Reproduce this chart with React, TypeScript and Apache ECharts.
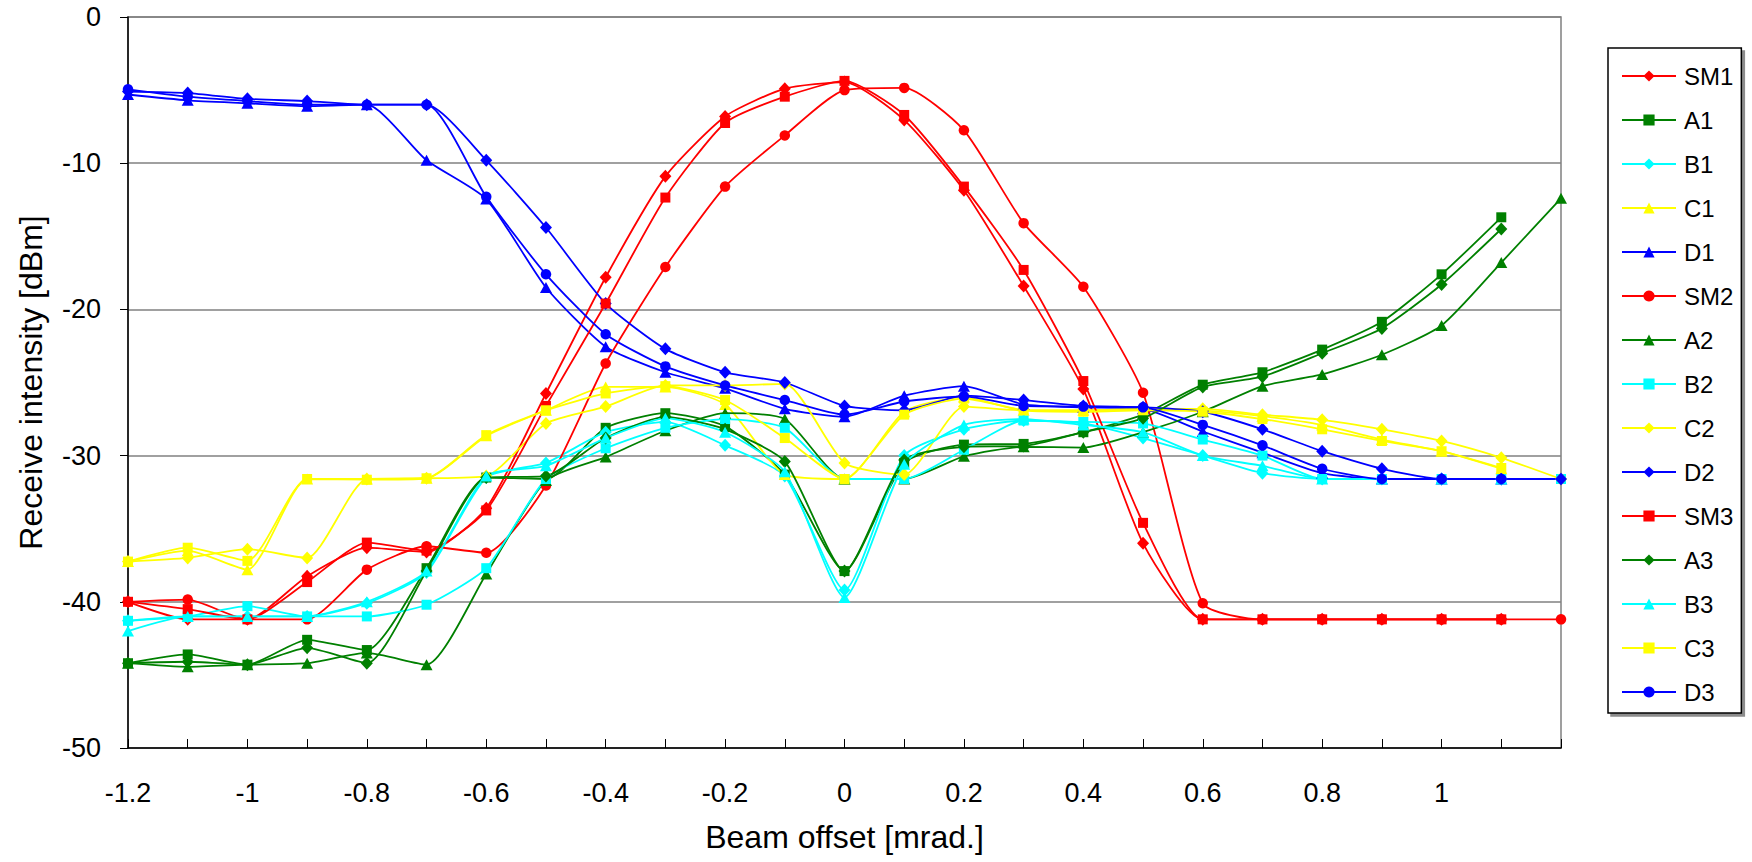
import React, { useEffect, useRef } from "react";
import * as echarts from "echarts";

// Beam offset [mrad.]
const X = [-1.2, -1.1, -1.0, -0.9, -0.8, -0.7, -0.6, -0.5, -0.4, -0.3, -0.2, -0.1, 0, 0.1, 0.2, 0.3, 0.4, 0.5, 0.6, 0.7, 0.8, 0.9, 1.0, 1.1, 1.2];

const SM1 = [-40.0, -41.2, -41.2, -38.25, -36.3, -36.6, -33.6, -25.75, -17.8, -10.9, -6.8, -4.9, -4.45, -7.05, -11.85, -18.4, -25.45, -36.0, -41.2, -41.2, -41.2, -41.2, -41.2, -41.2];
const A1 = [-44.2, -43.6, -44.3, -42.6, -43.3, -37.7, -31.5, -31.6, -28.1, -27.1, -28.0, -31.3, -37.9, -30.5, -29.25, -29.2, -28.4, -27.2, -25.15, -24.3, -22.75, -20.85, -17.6, -13.7];
const B1 = [-41.3, -41.0, -41.0, -41.0, -40.1, -38.0, -31.5, -30.5, -28.4, -27.7, -29.3, -31.4, -39.2, -30.0, -28.2, -27.6, -27.8, -28.8, -30.0, -31.2, -31.6, -31.6, -31.6, -31.6];
const C1 = [-37.25, -36.5, -37.8, -31.6, -31.6, -31.55, -28.65, -26.9, -25.3, -25.3, -26.5, -31.3, -31.6, -27.0, -26.0, -26.9, -26.9, -26.8, -26.9, -27.3, -27.9, -28.9, -29.7, -30.9];
const D1 = [-5.3, -5.7, -5.9, -6.1, -6.0, -9.8, -12.45, -18.5, -22.55, -24.3, -25.4, -26.8, -27.35, -25.9, -25.25, -26.5, -26.7, -26.8, -28.35, -29.8, -31.2, -31.6, -31.6, -31.6];
const SM2 = [-40.0, -39.85, -41.2, -41.2, -37.8, -36.2, -36.65, -32.05, -23.7, -17.1, -11.6, -8.1, -5.0, -4.85, -7.75, -14.1, -18.45, -25.7, -40.1, -41.2, -41.2, -41.2, -41.2, -41.2, -41.2];
const A2 = [-44.2, -44.45, -44.3, -44.2, -43.5, -44.3, -38.1, -31.7, -30.1, -28.3, -27.1, -27.5, -31.6, -31.6, -30.05, -29.4, -29.45, -28.4, -27.0, -25.25, -24.45, -23.1, -21.1, -16.8, -12.4];
const B2 = [-41.3, -41.0, -40.3, -41.0, -41.0, -40.2, -37.7, -31.6, -29.5, -28.1, -27.5, -28.1, -31.6, -31.6, -29.6, -27.6, -27.7, -27.8, -28.9, -30.0, -31.6, -31.6, -31.6, -31.6, -31.6];
const C2 = [-37.25, -37.0, -36.4, -37.0, -31.6, -31.55, -31.4, -27.8, -26.65, -25.2, -25.2, -25.1, -30.5, -31.3, -26.65, -26.9, -26.9, -26.8, -26.8, -27.2, -27.55, -28.2, -29.0, -30.15, -31.6];
const D2 = [-5.1, -5.2, -5.6, -5.75, -6.0, -6.0, -9.8, -14.4, -19.6, -22.7, -24.3, -25.0, -26.6, -26.9, -25.9, -26.2, -26.6, -26.7, -27.0, -28.2, -29.7, -30.9, -31.6, -31.6, -31.6];
const SM3 = [-40.0, -40.5, -41.2, -38.65, -35.95, -36.5, -33.75, -26.6, -19.6, -12.35, -7.25, -5.45, -4.37, -6.7, -11.6, -17.3, -24.9, -34.6, -41.2, -41.2, -41.2, -41.2, -41.2, -41.2];
const A3 = [-44.2, -44.1, -44.3, -43.15, -44.2, -37.9, -31.5, -31.4, -28.8, -27.35, -28.2, -30.4, -37.9, -30.3, -29.4, -29.35, -28.4, -27.45, -25.3, -24.6, -23.0, -21.3, -18.3, -14.5];
const B3 = [-42.0, -41.0, -41.0, -41.0, -40.0, -37.9, -31.4, -30.7, -28.8, -27.45, -28.4, -31.1, -39.7, -30.6, -27.9, -27.5, -27.9, -28.4, -30.0, -30.7, -31.6, -31.6, -31.6, -31.6];
const C3 = [-37.25, -36.3, -37.2, -31.6, -31.65, -31.55, -28.6, -26.9, -25.75, -25.25, -26.2, -28.8, -31.6, -27.2, -26.1, -26.9, -27.0, -26.9, -27.0, -27.5, -28.2, -29.0, -29.7, -30.85];
const D3 = [-4.95, -5.45, -5.75, -6.0, -6.0, -6.0, -12.3, -17.6, -21.7, -23.9, -25.2, -26.2, -27.2, -26.3, -25.95, -26.6, -26.65, -26.7, -27.9, -29.3, -30.9, -31.6, -31.6, -31.6];

const RED = "#FF0000";
const GREEN = "#008000";
const CYAN = "#00FFFF";
const YELLOW = "#FFFF00";
const BLUE = "#0000FF";

const SERIES_DEF: [string, number[], string, string][] = [
  ["SM1", SM1, RED, "diamond"],
  ["A1", A1, GREEN, "rect"],
  ["B1", B1, CYAN, "diamond"],
  ["C1", C1, YELLOW, "triangle"],
  ["D1", D1, BLUE, "triangle"],
  ["SM2", SM2, RED, "circle"],
  ["A2", A2, GREEN, "triangle"],
  ["B2", B2, CYAN, "rect"],
  ["C2", C2, YELLOW, "diamond"],
  ["D2", D2, BLUE, "diamond"],
  ["SM3", SM3, RED, "rect"],
  ["A3", A3, GREEN, "diamond"],
  ["B3", B3, CYAN, "triangle"],
  ["C3", C3, YELLOW, "rect"],
  ["D3", D3, BLUE, "circle"],
];

const SYMBOL_SIZE: Record<string, number | number[]> = {
  diamond: [12, 13],
  rect: [10, 10],
  triangle: [12, 11],
  circle: 10.5,
};

const FONT = "'Liberation Sans', Arial, sans-serif";

export default function App() {
  const ref = useRef<HTMLDivElement>(null);

  useEffect(() => {
    if (!ref.current) return;
    const chart = echarts.init(ref.current, undefined, { renderer: "svg" });

    const series = SERIES_DEF.map(([name, ys, color, symbol]) => ({
      name,
      type: "line",
      data: ys.map((y, i) => [X[i], y]),
      smooth: 0.2,
      symbol,
      symbolSize: SYMBOL_SIZE[symbol],
      lineStyle: { color, width: 1.8 },
      itemStyle: { color, borderWidth: 0 },
      emphasis: { disabled: true },
    }));

    chart.setOption({
      animation: false,
      backgroundColor: "#ffffff",
      textStyle: { fontFamily: FONT },
      grid: {
        left: 128,
        right: 191,
        top: 17,
        bottom: 114,
        show: true,
        borderColor: "#808080",
        borderWidth: 1.5,
        backgroundColor: "transparent",
      },
      xAxis: {
        type: "value",
        min: -1.2,
        max: 1.2,
        interval: 0.1,
        name: "Beam offset [mrad.]",
        nameLocation: "middle",
        nameGap: 73,
        nameTextStyle: { fontSize: 32, color: "#000", fontFamily: FONT },
        axisLine: { show: true, onZero: false, lineStyle: { color: "#000", width: 1.5 } },
        axisTick: { show: true, inside: true, length: 9, lineStyle: { color: "#000", width: 1 } },
        splitLine: { show: false },
        axisLabel: {
          margin: 31,
          fontSize: 27,
          color: "#000",
          fontFamily: FONT,
          showMaxLabel: true,
          formatter: (v: number) => {
            const k = Math.round(v * 10);
            if (k % 2 !== 0 || k === 12) return "";
            return String(k / 10);
          },
        },
      },
      yAxis: {
        type: "value",
        min: -50,
        max: 0,
        interval: 10,
        name: "Receive intensity [dBm]",
        nameLocation: "middle",
        nameGap: 81,
        nameRotate: 90,
        nameTextStyle: { fontSize: 32, color: "#000", fontFamily: FONT },
        axisLine: { show: true, onZero: false, lineStyle: { color: "#000", width: 1.5 } },
        axisTick: { show: true, inside: false, length: 8, lineStyle: { color: "#000", width: 1 } },
        splitLine: { show: true, lineStyle: { color: "#808080", width: 1.5 } },
        axisLabel: { margin: 27, fontSize: 27, color: "#000", fontFamily: FONT },
      },
      legend: {
        orient: "vertical",
        left: 1608,
        top: 48,
        padding: [16, 8, 9, 13],
        itemWidth: 54,
        itemHeight: 14,
        itemGap: 20,
        backgroundColor: "#ffffff",
        borderColor: "#000",
        borderWidth: 1.5,
        shadowColor: "rgba(0,0,0,0.45)",
        shadowOffsetX: 3,
        shadowOffsetY: 3,
        shadowBlur: 0,
        textStyle: { fontSize: 24, color: "#000", fontFamily: FONT, padding: [0, 0, 0, 3] },
        data: SERIES_DEF.map((d) => d[0]),
        selectedMode: false,
      },
      series,
    });

    return () => chart.dispose();
  }, []);

  return (
    <div
      ref={ref}
      style={{ position: "fixed", left: 0, top: 0, width: 1752, height: 862, background: "#fff" }}
    />
  );
}
